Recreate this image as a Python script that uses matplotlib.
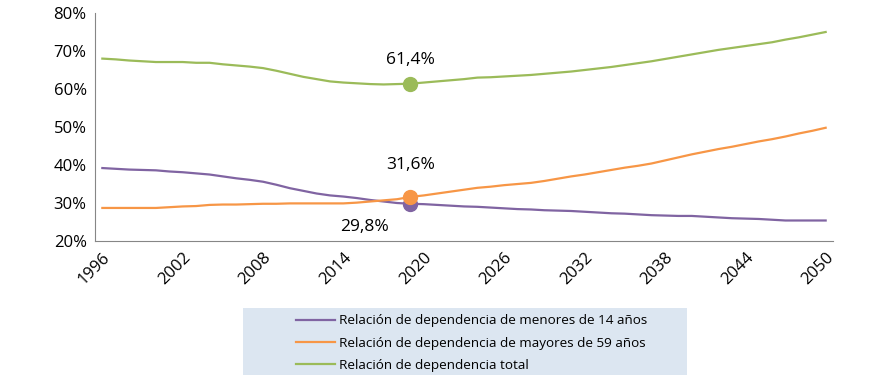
import numpy as np
import matplotlib.pyplot as plt
from matplotlib.patches import Rectangle

years = list(range(1996, 2051))

menores = [39.2, 39.0, 38.8, 38.7, 38.6, 38.3, 38.1, 37.8, 37.5, 37.0,
           36.5, 36.1, 35.6, 34.8, 33.9, 33.2, 32.5, 32.0, 31.7, 31.3,
           30.8, 30.4, 30.0, 29.8, 29.7, 29.5, 29.3, 29.1, 29.0, 28.8,
           28.6, 28.4, 28.3, 28.1, 28.0, 27.9, 27.7, 27.5, 27.3, 27.2,
           27.0, 26.8, 26.7, 26.6, 26.6, 26.4, 26.2, 26.0, 25.9, 25.8,
           25.6, 25.4, 25.4, 25.4, 25.4]

mayores = [28.7, 28.7, 28.7, 28.7, 28.7, 28.9, 29.1, 29.2, 29.5, 29.6,
           29.6, 29.7, 29.8, 29.8, 29.9, 29.9, 29.9, 29.9, 29.9, 30.1,
           30.4, 30.7, 31.0, 31.6, 32.0, 32.5, 33.0, 33.5, 34.0, 34.3,
           34.7, 35.0, 35.3, 35.8, 36.4, 37.0, 37.5, 38.1, 38.7, 39.3,
           39.8, 40.4, 41.2, 42.0, 42.8, 43.5, 44.2, 44.8, 45.5, 46.2,
           46.8, 47.5, 48.3, 49.0, 49.8]

total = [68.0, 67.8, 67.5, 67.3, 67.1, 67.1, 67.1, 66.9, 66.9, 66.5,
         66.2, 65.9, 65.5, 64.8, 64.0, 63.2, 62.6, 62.0, 61.7, 61.5,
         61.3, 61.2, 61.3, 61.4, 61.7, 62.0, 62.3, 62.6, 63.0, 63.1,
         63.3, 63.5, 63.7, 64.0, 64.3, 64.6, 65.0, 65.4, 65.8, 66.3,
         66.8, 67.3, 67.9, 68.5, 69.1, 69.7, 70.3, 70.8, 71.3, 71.8,
         72.3, 73.0, 73.6, 74.3, 75.0]

labels = ['Relación de dependencia de menores de 14 años',
          'Relación de dependencia de mayores de 59 años',
          'Relación de dependencia total']
colors = ['#8064a2', '#f79646', '#9bbb59']

highlight_year = 2019
yticks = [20, 30, 40, 50, 60, 70, 80]
xtick_years = list(range(1996, 2051, 6))

plt.rcParams['font.family'] = ['Open Sans', 'DejaVu Sans']

fig = plt.figure(figsize=(8.86, 3.77), dpi=100)
ax = fig.add_axes([0.1072, 0.3607, 0.833, 0.6048])

for series, lab, col in zip([menores, mayores, total], labels, colors):
    ax.plot(years, series, color=col, lw=1.6, label=lab)
    i = years.index(highlight_year)
    ax.plot(years[i], series[i], 'o', color=col, ms=10)

i = years.index(highlight_year)
ax.text(years[i], total[i] + 6.2, f"{total[i]:.1f}%".replace('.', ','),
        ha='center', va='center', fontsize=12.5)
ax.text(years[i], mayores[i] + 8.4, f"{mayores[i]:.1f}%".replace('.', ','),
        ha='center', va='center', fontsize=12.5)
ax.text(years[i] - 3.4, menores[i] - 6.0, f"{menores[i]:.1f}%".replace('.', ','),
        ha='center', va='center', fontsize=12.5)

ax.set_xlim(1995.45, 2050.55)
ax.set_ylim(20, 80)
ax.set_yticks(yticks)
ax.set_yticklabels([f"{v}%" for v in yticks], fontsize=12)
ax.set_xticks(xtick_years)
ax.set_xticklabels([str(y) for y in xtick_years], rotation=45, ha='right',
                   rotation_mode='anchor', fontsize=12)
ax.tick_params(length=0, pad=6)
for s in ['top', 'right']:
    ax.spines[s].set_visible(False)
for s in ['left', 'bottom']:
    ax.spines[s].set_color('#868686')

# legend box
fig.patches.append(Rectangle((243 / 886, 2 / 377), 444 / 886, 67 / 377,
                             transform=fig.transFigure, facecolor='#dce6f1',
                             edgecolor='none', zorder=0))
handles = ax.get_lines()[0::2]
fig.legend(handles, labels, loc='center left',
           bbox_to_anchor=(289 / 886, 34 / 377), frameon=False,
           fontsize=9.7, handlelength=2.9, handletextpad=0.3,
           labelspacing=0.68, borderpad=0)

fig.savefig('out.png', dpi=100)
